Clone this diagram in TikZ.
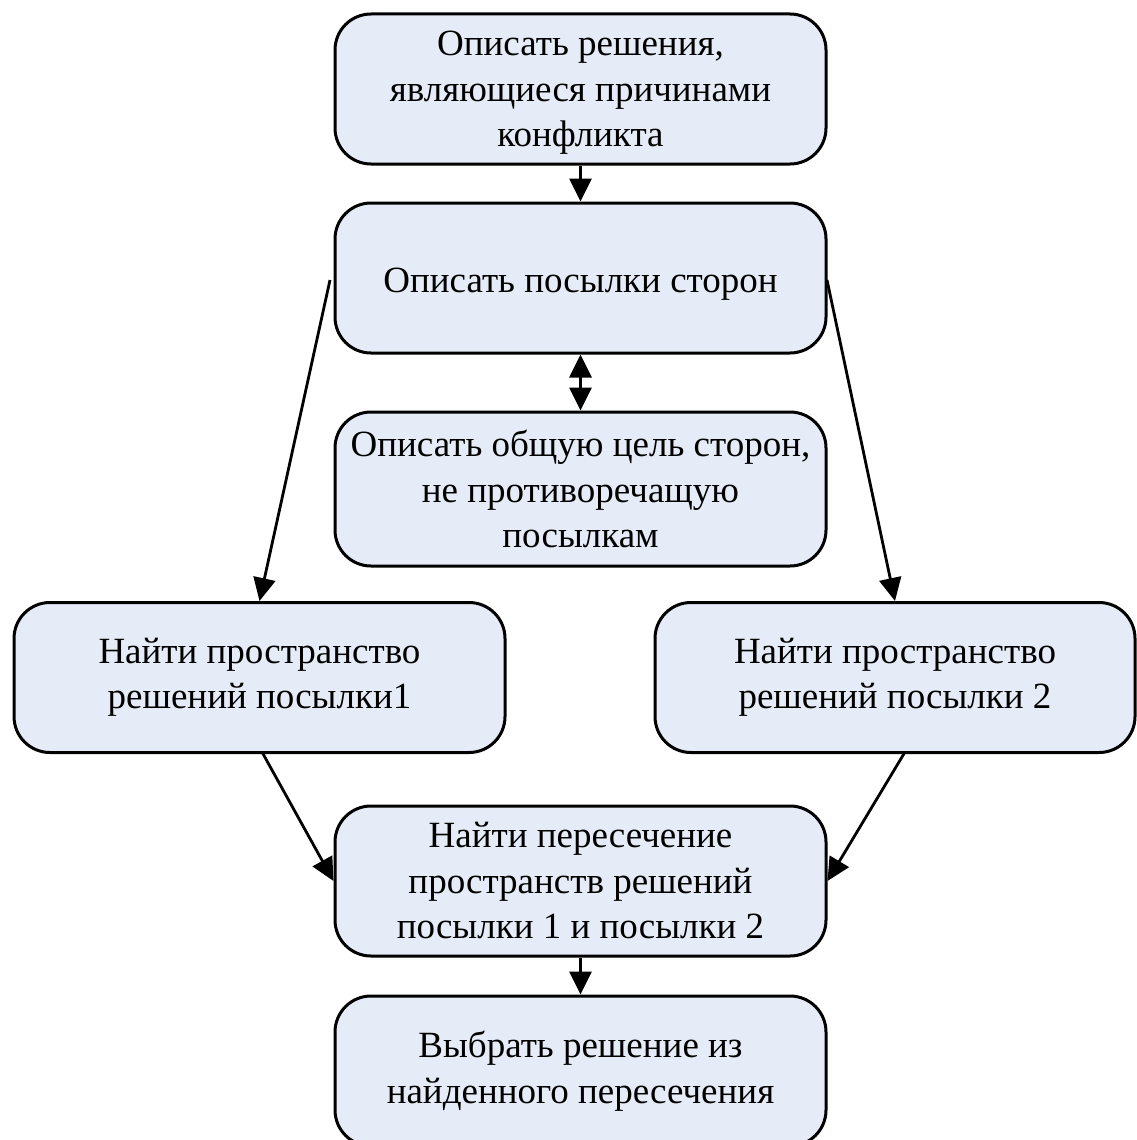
\documentclass[tikz,border=0pt]{standalone}
\usepackage{fontspec}
\setmainfont{Liberation Serif}
\usetikzlibrary{arrows.meta}
\definecolor{boxfill}{HTML}{E6ECF7}
\begin{document}
\begin{tikzpicture}[x=1pt,y=-1pt,
  stepbox/.style={draw=black, line width=3pt, fill=boxfill, rounded corners=36pt,
    minimum height=150pt, inner sep=0pt, align=center,
    font=\fontsize{37}{45.5}\selectfont},
  steptext/.style={inner sep=0pt, align=center, font=\fontsize{37}{45.5}\selectfont},
  conn/.style={line width=2.8pt, -{Triangle[length=23pt,width=22pt]}},
  biconn/.style={line width=2.8pt, {Triangle[length=23pt,width=22pt]}-{Triangle[length=23pt,width=22pt]}}]
\useasboundingbox (0,0) rectangle (1137,1140);
% boxes
\node[stepbox, minimum width=491pt] (a) at (580.5,89) {};
\node[steptext] (atext) at (580.5,93) {Описать решения,\\являющиеся причинами\\конфликта};
\node[stepbox, minimum width=491pt] (b) at (580.5,278) {};
\node[steptext] (btext) at (580.5,284) {Описать посылки сторон};
\node[stepbox, minimum width=491pt, minimum height=154pt] (c) at (580.5,489) {Описать общую цель сторон,\\не противоречащую\\посылкам};
\node[stepbox, minimum width=491pt] (l) at (259.5,677.5) {Найти пространство\\решений посылки1};
\node[stepbox, minimum width=480pt] (r) at (895,677.5) {Найти пространство\\решений посылки 2};
\node[stepbox, minimum width=491pt] (d) at (580.5,881) {Найти пересечение\\пространств решений\\посылки 1 и посылки 2};
\node[stepbox, minimum width=491pt] (e) at (580.5,1071) {Выбрать решение из\\найденного пересечения};
% connectors
\coordinate (bl) at (330,280);
\coordinate (br) at (827,280);
\coordinate (lb) at (262,752);
\coordinate (rb) at (905,752);
\draw[conn] (a.south) -- (b.north);
\draw[biconn] (b.south) -- (c.north);
\draw[conn] (bl) -- (l.north);
\draw[conn] (br) -- (r.north);
\draw[conn] (lb) -- (d.west);
\draw[conn] (rb) -- (d.east);
\draw[conn] (d.south) -- (e.north);
\end{tikzpicture}
\end{document}
